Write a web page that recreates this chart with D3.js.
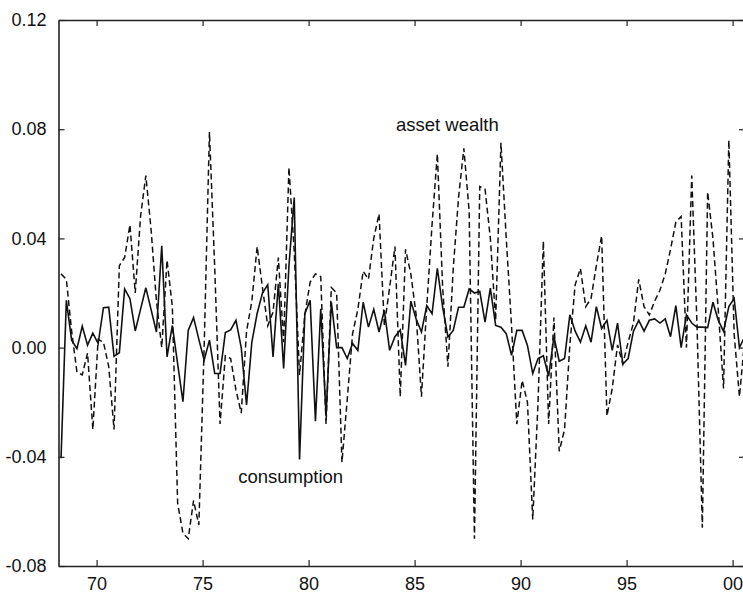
<!DOCTYPE html>
<html><head><meta charset="utf-8">
<script src="https://cdn.jsdelivr.net/npm/d3@7"></script>
<style>
body{margin:0;background:#fff}
svg{display:block}
text{font-family:"Liberation Sans",Arial,Helvetica,sans-serif;fill:#111}
</style>
</head><body>
<svg id="chart" width="743" height="593"></svg>
<script>
// ---- data (quarterly) ----
const firstQuarter = 1968.323;   // decimal year of first observation
const quarterStep = 0.25;
const consumption = [
 -0.0405, 0.0173, 0.0027,-0.0004, 0.0078, 0.0009, 0.0053, 0.0015, 0.0146, 0.0148,
 -0.0032,-0.0019, 0.0215, 0.0179, 0.0061, 0.0140, 0.0219, 0.0138, 0.0057, 0.0373,
 -0.0034, 0.0081,-0.0060,-0.0198, 0.0063, 0.0110, 0.0030,-0.0046, 0.0027,-0.0095,
 -0.0095, 0.0055, 0.0065, 0.0100, 0.0000,-0.0210, 0.0020, 0.0125, 0.0200, 0.0230,
 -0.0034, 0.0234,-0.0076, 0.0300, 0.0550,-0.0410, 0.0124, 0.0173,-0.0270, 0.0142,
 -0.0250, 0.0166, 0.0000, 0.0000,-0.0040, 0.0015,-0.0010, 0.0166, 0.0075, 0.0140,
  0.0057, 0.0136,-0.0010, 0.0040, 0.0065,-0.0065, 0.0170, 0.0105, 0.0057, 0.0154,
  0.0124, 0.0290, 0.0148, 0.0039, 0.0063, 0.0148, 0.0148, 0.0215, 0.0200, 0.0206,
  0.0093, 0.0218, 0.0081, 0.0075, 0.0051,-0.0028, 0.0063, 0.0063, 0.0008,-0.0095,
 -0.0040,-0.0030,-0.0105, 0.0040,-0.0050,-0.0040, 0.0120, 0.0060, 0.0020, 0.0080,
  0.0020, 0.0150, 0.0070, 0.0100,-0.0010, 0.0090,-0.0060,-0.0040, 0.0060, 0.0100,
  0.0060, 0.0100, 0.0105, 0.0090, 0.0105, 0.0040, 0.0154, 0.0000, 0.0120, 0.0090,
  0.0075, 0.0075, 0.0073, 0.0166, 0.0100, 0.0060, 0.0150, 0.0180, 0.0000, 0.0040
];
const assetWealth = [
  0.027, 0.025, 0.006,-0.009,-0.010,-0.002,-0.030, 0.003, 0.002,-0.007,
 -0.030, 0.030, 0.033, 0.045, 0.020, 0.048, 0.063, 0.043, 0.017, 0.000,
  0.032, 0.015,-0.057,-0.068,-0.070,-0.056,-0.065, 0.000, 0.079, 0.029,
 -0.028,-0.003,-0.004,-0.0155,-0.024, 0.006, 0.017, 0.037, 0.022, 0.008,
  0.013, 0.033, 0.002, 0.066, 0.035,-0.010, 0.012, 0.024, 0.027, 0.026,
 -0.028, 0.022, 0.020,-0.042,-0.019, 0.005, 0.014, 0.028, 0.025, 0.040,
  0.049, 0.008, 0.022, 0.037,-0.018, 0.036, 0.027, 0.012,-0.018, 0.015,
  0.045, 0.071, 0.022,-0.007, 0.029, 0.055, 0.073, 0.050,-0.070, 0.059,
  0.058, 0.040, 0.010, 0.075, 0.040, 0.008,-0.028,-0.012,-0.020,-0.063,
 -0.020, 0.039,-0.028, 0.011,-0.038,-0.030, 0.001, 0.023, 0.029, 0.015,
  0.018, 0.030, 0.041,-0.025,-0.015, 0.001,-0.006, 0.002, 0.009, 0.025,
  0.015, 0.012, 0.017, 0.021, 0.027, 0.036, 0.046, 0.048, 0.000, 0.063,
  0.008,-0.066, 0.057, 0.040, 0.014,-0.015, 0.076, 0.005,-0.018, 0.003
];
const xTickValues = [1970, 1975, 1980, 1985, 1990, 1995, 2000];
const xTickLabels = ["70", "75", "80", "85", "90", "95", "00"];
const yTickValues = [-0.08, -0.04, 0.00, 0.04, 0.08, 0.12];
const yTickLabels = ["-0.08", "-0.04", "0.00", "0.04", "0.08", "0.12"];
const seriesLabels = [
  {text: "asset wealth", year: 1984.12, value: 0.0792},
  {text: "consumption", year: 1976.68, value: -0.0497}
];

// ---- layout ----
const W = 743, H = 593;
const pL = 58.5, pR = 745, pT = 20, pB = 566;

const x = d3.scaleLinear().domain([1968.203, 2000.585]).range([pL, pR]);
const y = d3.scaleLinear().domain([-0.08, 0.12]).range([pB, pT]);

const svg = d3.select("#chart");
svg.append("rect").attr("width", W).attr("height", H).attr("fill", "#fff");

svg.append("defs").append("clipPath").attr("id", "plotclip")
  .append("rect").attr("x", pL).attr("y", pT).attr("width", pR - pL).attr("height", pB - pT);

const time = i => firstQuarter + i * quarterStep;
const line = d3.line().x((d, i) => x(time(i))).y(d => y(d));

const g = svg.append("g").attr("clip-path", "url(#plotclip)");
g.append("path").datum(assetWealth)
  .attr("d", line).attr("fill", "none").attr("stroke", "#111")
  .attr("stroke-width", 1.5).attr("stroke-dasharray", "6,3.5");
g.append("path").datum(consumption)
  .attr("d", line).attr("fill", "none").attr("stroke", "#111")
  .attr("stroke-width", 1.6);

// axes (inward ticks on all four sides)
const fmtX = (d) => xTickLabels[xTickValues.indexOf(d)];
const fmtY = (d) => yTickLabels[yTickValues.indexOf(d)];

const axB = svg.append("g").attr("transform", `translate(0,${pB})`)
  .call(d3.axisBottom(x).tickValues(xTickValues).tickFormat(fmtX).tickSizeInner(-6).tickSizeOuter(0).tickPadding(11));
const axL = svg.append("g").attr("transform", `translate(${pL},0)`)
  .call(d3.axisLeft(y).tickValues(yTickValues).tickFormat(fmtY).tickSizeInner(-6).tickSizeOuter(0).tickPadding(12));
const axT = svg.append("g").attr("transform", `translate(0,${pT})`)
  .call(d3.axisTop(x).tickValues(xTickValues).tickFormat("").tickSizeInner(-6).tickSizeOuter(0));
const axR = svg.append("g").attr("transform", `translate(${pR},0)`)
  .call(d3.axisRight(y).tickValues(yTickValues).tickFormat("").tickSizeInner(-6).tickSizeOuter(0));

[axB, axL, axT, axR].forEach(a => {
  a.select(".domain").attr("stroke", "#222").attr("stroke-width", 1.6);
  a.selectAll(".tick line").attr("stroke", "#222").attr("stroke-width", 1.2);
  a.selectAll(".tick text").attr("font-size", 18).attr("fill", "#111")
    .attr("font-family", '"Liberation Sans", Arial, Helvetica, sans-serif');
});

// series annotations
svg.selectAll("text.note").data(seriesLabels).enter().append("text")
  .attr("class", "note")
  .attr("x", d => x(d.year)).attr("y", d => y(d.value))
  .attr("font-size", 18.5)
  .text(d => d.text);
</script>
</body></html>
